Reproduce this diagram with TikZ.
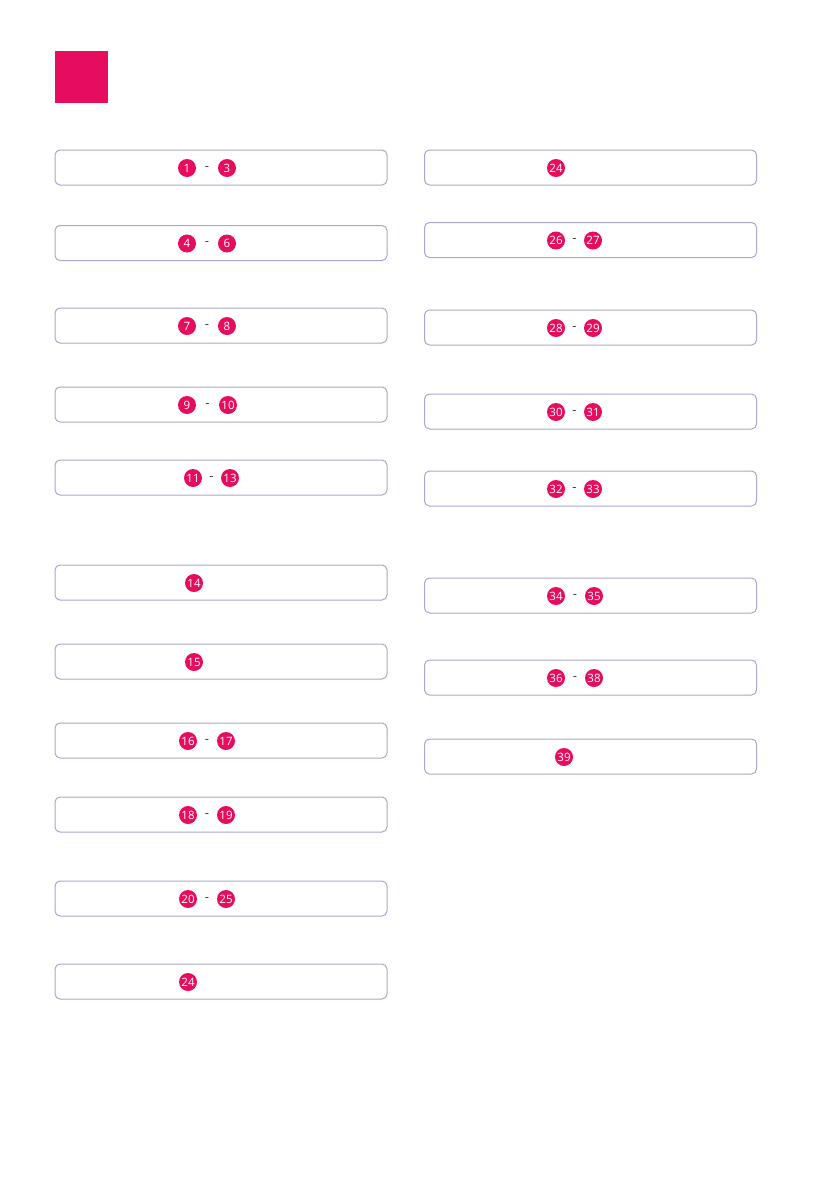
\documentclass[tikz,border=0pt]{standalone}
\usepackage{fontspec}
\setsansfont{Open Sans}
\definecolor{badgepink}{RGB}{230,12,94}
\definecolor{framelilac}{RGB}{168,166,206}
\definecolor{dashgray}{RGB}{60,60,60}

\begin{document}
\begin{tikzpicture}
                \tikzset{x=1pt, y=-1pt}
                \tikzstyle{slot}=[rectangle, draw=framelilac, line width=1pt, rounded corners=5pt, minimum width=332pt, minimum height=35pt]
                \tikzstyle{num}=[circle, fill=badgepink, text=white, inner sep=0pt, minimum size=18pt, font=\sffamily\fontsize{11.5}{11.5}\selectfont]
                \tikzstyle{sep}=[inner sep=0pt, text=dashgray, yshift=-2.5pt, font=\sffamily\fontsize{13}{13}\selectfont]

                \useasboundingbox (0,0) rectangle (839,1191);
                \fill[badgepink] (55,51) rectangle (108,103);

                % left column
                \draw (221.0, 167.5)    node[slot]  (l1)    {};
                \draw (221.0, 243.0)    node[slot]  (l2)    {};
                \draw (221.0, 325.5)    node[slot]  (l3)    {};
                \draw (221.0, 404.5)    node[slot]  (l4)    {};
                \draw (221.0, 477.5)    node[slot]  (l5)    {};
                \draw (221.0, 582.5)    node[slot]  (l6)    {};
                \draw (221.0, 661.5)    node[slot]  (l7)    {};
                \draw (221.0, 740.5)    node[slot]  (l8)    {};
                \draw (221.0, 814.5)    node[slot]  (l9)    {};
                \draw (221.0, 898.5)    node[slot]  (l10)   {};
                \draw (221.0, 981.5)    node[slot]  (l11)   {};

                \draw (187.0, 168.0)    node[num]   (a1)    {1};
                \draw (207.0, 166.0)    node[sep]   (d1)    {-};
                \draw (227.0, 168.0)    node[num]   (b1)    {3};
                \draw (187.0, 243.5)    node[num]   (a2)    {4};
                \draw (207.0, 241.5)    node[sep]   (d2)    {-};
                \draw (227.0, 243.5)    node[num]   (b2)    {6};
                \draw (187.0, 326.0)    node[num]   (a3)    {7};
                \draw (207.0, 324.0)    node[sep]   (d3)    {-};
                \draw (227.0, 326.0)    node[num]   (b3)    {8};
                \draw (187.0, 405.0)    node[num]   (a4)    {9};
                \draw (207.5, 403.0)    node[sep]   (d4)    {-};
                \draw (228.0, 405.0)    node[num]   (b4)    {10};
                \draw (193.0, 478.0)    node[num]   (a5)    {11};
                \draw (211.5, 476.0)    node[sep]   (d5)    {-};
                \draw (230.0, 478.0)    node[num]   (b5)    {13};
                \draw (194.0, 583.0)    node[num]   (a6)    {14};
                \draw (194.0, 662.0)    node[num]   (a7)    {15};
                \draw (188.0, 741.0)    node[num]   (a8)    {16};
                \draw (207.0, 739.0)    node[sep]   (d8)    {-};
                \draw (226.0, 741.0)    node[num]   (b8)    {17};
                \draw (188.0, 815.0)    node[num]   (a9)    {18};
                \draw (207.0, 813.0)    node[sep]   (d9)    {-};
                \draw (226.0, 815.0)    node[num]   (b9)    {19};
                \draw (188.0, 899.0)    node[num]   (a10)   {20};
                \draw (207.0, 897.0)    node[sep]   (d10)   {-};
                \draw (226.0, 899.0)    node[num]   (b10)   {25};
                \draw (188.0, 982.0)    node[num]   (a11)   {24};

                % right column
                \draw (590.5, 167.5)    node[slot]  (r1)    {};
                \draw (590.5, 240.0)    node[slot]  (r2)    {};
                \draw (590.5, 327.5)    node[slot]  (r3)    {};
                \draw (590.5, 411.5)    node[slot]  (r4)    {};
                \draw (590.5, 488.5)    node[slot]  (r5)    {};
                \draw (590.5, 595.5)    node[slot]  (r6)    {};
                \draw (590.5, 677.5)    node[slot]  (r7)    {};
                \draw (590.5, 756.5)    node[slot]  (r8)    {};

                \draw (556.0, 168.0)    node[num]   (c1)    {24};
                \draw (556.0, 240.5)    node[num]   (c2)    {26};
                \draw (574.5, 238.5)    node[sep]   (e2)    {-};
                \draw (593.0, 240.5)    node[num]   (f2)    {27};
                \draw (556.0, 328.0)    node[num]   (c3)    {28};
                \draw (574.5, 326.0)    node[sep]   (e3)    {-};
                \draw (593.0, 328.0)    node[num]   (f3)    {29};
                \draw (556.0, 412.0)    node[num]   (c4)    {30};
                \draw (574.5, 410.0)    node[sep]   (e4)    {-};
                \draw (593.0, 412.0)    node[num]   (f4)    {31};
                \draw (556.0, 489.0)    node[num]   (c5)    {32};
                \draw (574.5, 487.0)    node[sep]   (e5)    {-};
                \draw (593.0, 489.0)    node[num]   (f5)    {33};
                \draw (556.0, 596.0)    node[num]   (c6)    {34};
                \draw (575.0, 594.0)    node[sep]   (e6)    {-};
                \draw (594.0, 596.0)    node[num]   (f6)    {35};
                \draw (556.0, 678.0)    node[num]   (c7)    {36};
                \draw (575.0, 676.0)    node[sep]   (e7)    {-};
                \draw (594.0, 678.0)    node[num]   (f7)    {38};
                \draw (564.0, 757.0)    node[num]   (c8)    {39};
            \end{tikzpicture}
\end{document}
